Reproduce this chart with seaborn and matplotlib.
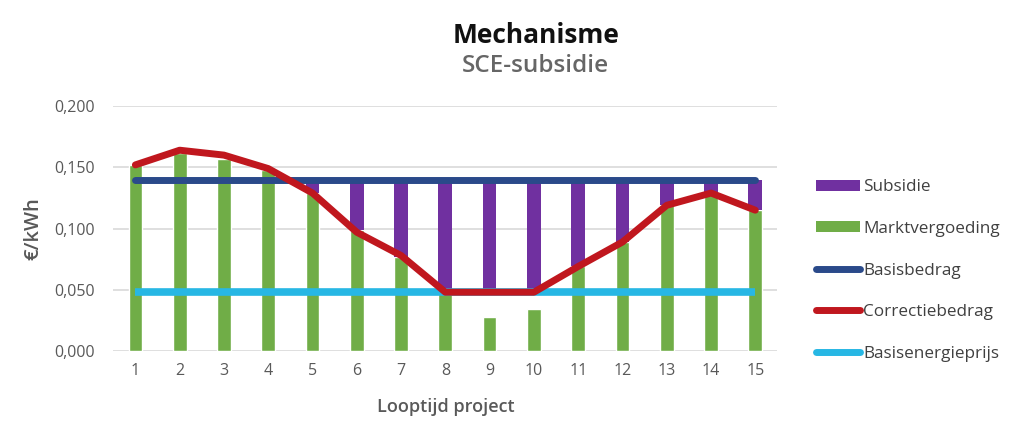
import numpy as np
import matplotlib
matplotlib.use("Agg")
import matplotlib.pyplot as plt
from matplotlib.lines import Line2D
from matplotlib.patches import Patch
import seaborn as sns

years = list(range(1, 16))
marktvergoeding = [0.152, 0.162, 0.157, 0.148, 0.129, 0.099, 0.077, 0.048, 0.028, 0.034,
                   0.069, 0.089, 0.119, 0.129, 0.115]
subsidie = [0.0, 0.0, 0.0, 0.0, 0.011, 0.041, 0.063, 0.092, 0.092, 0.092,
            0.071, 0.051, 0.021, 0.011, 0.025]
basisbedrag = [0.14] * 15
correctiebedrag = [0.152, 0.164, 0.160, 0.149, 0.129, 0.097, 0.078, 0.048, 0.048, 0.048,
                   0.069, 0.089, 0.119, 0.129, 0.115]
basisenergieprijs = [0.048] * 15
yticks = [0.0, 0.05, 0.10, 0.15, 0.20]
ytick_labels = ["0,000", "0,050", "0,100", "0,150", "0,200"]

c_purple = "#7030A0"
c_green = "#70AD47"
c_blue = "#2A4A8A"
c_red = "#C0171E"
c_cyan = "#27B7E4"
c_text = "#595959"

sns.set_style("white")
plt.rcParams['font.family'] = ['Open Sans', 'DejaVu Sans']

fig = plt.figure(figsize=(10.11, 4.28), dpi=100)
ax = fig.add_axes([0.112, 0.180, 0.657, 0.572])

bw = 0.31
sns.barplot(x=years, y=marktvergoeding, native_scale=True, color=c_green,
            saturation=1, width=bw, ax=ax, zorder=2)
bottoms = np.array(basisbedrag) - np.array(subsidie)
ax.bar(years, subsidie, bottom=bottoms, width=bw, color=c_purple, zorder=2, linewidth=0)

sns.lineplot(x=years, y=basisbedrag, color=c_blue, lw=5, ax=ax, zorder=3,
             solid_capstyle="round")
sns.lineplot(x=years, y=basisenergieprijs, color=c_cyan, lw=5.5, ax=ax, zorder=4,
             solid_capstyle="butt")
sns.lineplot(x=years, y=correctiebedrag, color=c_red, lw=5, ax=ax, zorder=5,
             solid_capstyle="round", solid_joinstyle="round")

ax.set_xlim(0.5, 15.5)
ax.set_ylim(0, 0.2)
ax.set_xticks(years)
ax.set_xticklabels([str(y) for y in years], fontsize=11.5, color=c_text)
ax.set_yticks(yticks)
ax.set_yticklabels(ytick_labels, fontsize=11.5, color=c_text)
ax.tick_params(axis="y", length=0, pad=13)
ax.tick_params(axis="x", length=0, pad=9)
ax.grid(axis="y", color="#D9D9D9", lw=1.2, zorder=0)
ax.set_axisbelow(True)
for s in ax.spines.values():
    s.set_visible(False)
ax.set_xlabel("Looptijd project", fontsize=13, color=c_text, fontweight="semibold", labelpad=13)
ax.set_ylabel("€/kWh", fontsize=14.5, color=c_text, fontweight="semibold", labelpad=8)

fig.text(0.530, 0.918, "Mechanisme", ha="center", va="center", fontsize=19,
         fontweight="bold", color="#111111")
fig.text(0.530, 0.846, "SCE-subsidie", ha="center", va="center", fontsize=17.5,
         fontweight="semibold", color="#666666")

handles = [
    Patch(facecolor=c_purple, edgecolor="none"),
    Patch(facecolor=c_green, edgecolor="none"),
    Line2D([0], [0], color=c_blue, lw=5, solid_capstyle="round"),
    Line2D([0], [0], color=c_red, lw=5, solid_capstyle="round"),
    Line2D([0], [0], color=c_cyan, lw=5, solid_capstyle="round"),
]
labels = ["Subsidie", "Marktvergoeding", "Basisbedrag", "Correctiebedrag", "Basisenergieprijs"]
leg = fig.legend(handles, labels, loc="upper left", bbox_to_anchor=(0.800, 0.597),
                 frameon=False, fontsize=12.3, handlelength=2.6, handleheight=0.6,
                 handletextpad=0.2, labelspacing=1.5, borderaxespad=0)
for t in leg.get_texts():
    t.set_color("#404040")

fig.savefig("out.png", dpi=100)
